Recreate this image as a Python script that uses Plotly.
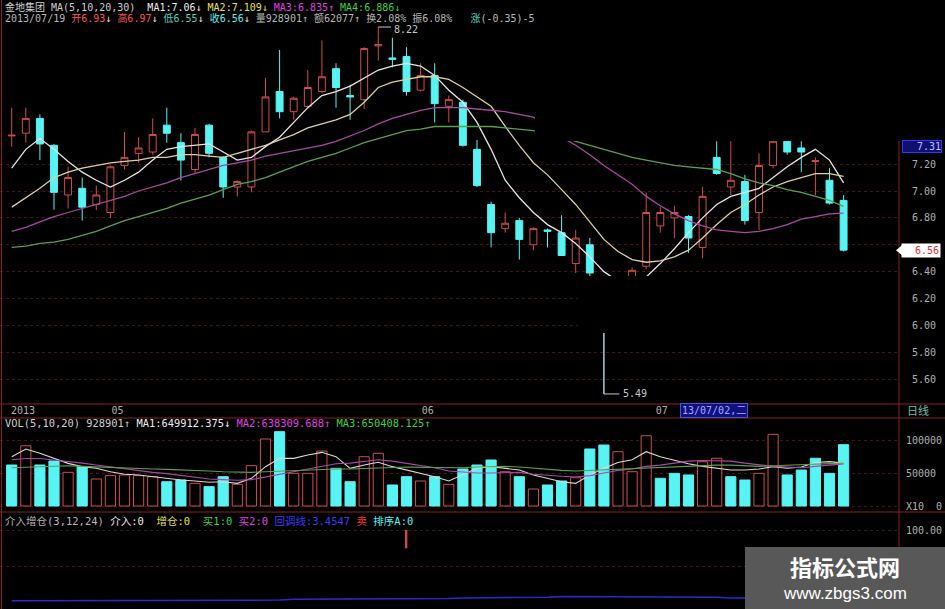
import plotly.graph_objects as go

W, H = 945, 609

# ---------------- data ----------------
opens = [7.41, 7.43, 7.54, 7.34, 6.97, 7.02, 6.90, 6.84, 7.19, 7.28,
         7.29, 7.49, 7.36, 7.16, 7.49, 7.25, 7.03, 7.03, 7.44, 7.74,
         7.59, 7.63, 7.74, 7.91, 7.71, 7.68, 8.08, 7.99, 8.00, 7.75,
         7.86, 7.63, 7.66, 7.31, 6.90, 6.72, 6.78, 6.60, 6.71, 6.69,
         6.46, 6.60, 6.36, 6.08, 6.20, 6.44, 6.74, 6.80, 6.81, 6.58,
         7.25, 7.03, 7.07, 6.84, 7.19, 7.37, 7.32, 7.22, 7.08, 6.93]
highs = [7.62, 7.62, 7.57, 7.35, 7.18, 7.10, 7.04, 7.19, 7.44, 7.40,
         7.54, 7.62, 7.43, 7.47, 7.50, 7.26, 7.08, 7.45, 7.84, 8.05,
         7.70, 7.90, 8.12, 7.95, 7.79, 8.07, 8.22, 8.14, 8.07, 7.95,
         7.95, 7.71, 7.68, 7.38, 6.92, 6.84, 6.80, 6.73, 6.72, 6.82,
         6.71, 6.65, 6.37, 6.32, 6.43, 6.99, 6.88, 6.89, 6.82, 7.03,
         7.37, 7.37, 7.12, 7.28, 7.40, 7.40, 7.37, 7.25, 7.17, 6.97]
lows = [7.33, 7.36, 7.23, 6.86, 6.87, 6.78, 6.86, 6.80, 7.16, 7.21,
        7.27, 7.36, 7.08, 7.13, 7.25, 6.95, 6.96, 6.99, 7.44, 7.54,
        7.53, 7.62, 7.73, 7.62, 7.53, 7.61, 7.97, 7.92, 7.71, 7.74,
        7.51, 7.51, 7.33, 7.03, 6.58, 6.69, 6.49, 6.56, 6.58, 6.52,
        6.39, 6.36, 5.49, 6.00, 6.15, 6.42, 6.69, 6.65, 6.54, 6.50,
        7.12, 6.97, 6.75, 6.71, 7.17, 7.27, 7.14, 6.97, 6.90, 6.55]
closes = [7.415, 7.54, 7.35, 6.99, 7.10, 6.88, 6.97, 7.18, 7.25, 7.32,
          7.42, 7.43, 7.23, 7.42, 7.28, 7.03, 7.07, 7.44, 7.70, 7.59,
          7.69, 7.77, 7.85, 7.77, 7.70, 8.06, 8.09, 7.98, 7.74, 7.86,
          7.65, 7.68, 7.34, 7.04, 6.69, 6.76, 6.64, 6.72, 6.70, 6.52,
          6.65, 6.39, 6.02, 6.29, 6.41, 6.84, 6.84, 6.84, 6.65, 6.96,
          7.13, 7.08, 6.78, 7.19, 7.37, 7.29, 7.29, 7.225, 6.91, 6.56]

ma5 = [7.17, 7.31, 7.39, 7.31, 7.22, 7.14, 7.08, 7.03, 7.08, 7.14,
       7.23, 7.31, 7.33, 7.34, 7.35, 7.29, 7.23, 7.25, 7.33, 7.40,
       7.51, 7.62, 7.71, 7.74, 7.78, 7.84, 7.90, 7.93, 7.95, 7.93,
       7.86, 7.75, 7.66, 7.51, 7.31, 7.08, 6.95, 6.84, 6.75, 6.69,
       6.61, 6.51, 6.40, 6.33, 6.30, 6.36, 6.46, 6.57, 6.69, 6.80,
       6.90, 6.96, 6.99, 7.02, 7.10, 7.18, 7.25, 7.31, 7.23, 7.06]
ma10 = [6.88, 6.95, 7.02, 7.10, 7.14, 7.17, 7.19, 7.21, 7.22, 7.23,
        7.25, 7.25, 7.27, 7.27, 7.26, 7.25, 7.28, 7.31, 7.34, 7.38,
        7.42, 7.47, 7.50, 7.53, 7.57, 7.66, 7.77, 7.81, 7.83, 7.85,
        7.85, 7.83, 7.77, 7.70, 7.63, 7.48, 7.34, 7.21, 7.12, 7.01,
        6.90, 6.77, 6.64, 6.55, 6.49, 6.47, 6.48, 6.51, 6.56, 6.65,
        6.75, 6.84, 6.90, 6.97, 7.03, 7.07, 7.10, 7.13, 7.13, 7.109]
ma20 = [6.70, 6.73, 6.77, 6.81, 6.84, 6.87, 6.90, 6.93, 6.96, 7.00,
        7.03, 7.06, 7.10, 7.13, 7.16, 7.19, 7.21, 7.23, 7.26, 7.28,
        7.30, 7.32, 7.34, 7.37, 7.41, 7.45, 7.50, 7.54, 7.57, 7.60,
        7.62, 7.62, 7.62, 7.61, 7.60, 7.59, 7.57, 7.55, 7.47, 7.40,
        7.34, 7.27, 7.19, 7.12, 7.05, 6.96, 6.89, 6.83, 6.78, 6.74,
        6.71, 6.70, 6.69, 6.70, 6.72, 6.75, 6.79, 6.81, 6.83, 6.835]
ma30 = [6.58, 6.59, 6.61, 6.62, 6.64, 6.67, 6.70, 6.74, 6.78, 6.81,
        6.84, 6.87, 6.91, 6.94, 6.97, 7.01, 7.05, 7.07, 7.10, 7.14,
        7.18, 7.22, 7.25, 7.28, 7.32, 7.36, 7.39, 7.42, 7.45, 7.46,
        7.48, 7.48, 7.48, 7.48, 7.48, 7.47, 7.46, 7.45, 7.43, 7.41,
        7.37, 7.34, 7.31, 7.28, 7.25, 7.23, 7.21, 7.19, 7.18, 7.17,
        7.16, 7.13, 7.09, 7.06, 7.04, 7.01, 6.99, 6.96, 6.93, 6.886]

volume = [621000, 912000, 621000, 682000, 510000, 596000, 409000, 460000, 470000, 460000,
          444000, 368000, 394000, 343000, 293000, 444000, 328000, 611000, 1015000, 1126000,
          495000, 495000, 833000, 571000, 368000, 747000, 798000, 318000, 444000, 379000,
          444000, 328000, 561000, 621000, 697000, 520000, 444000, 258000, 318000, 379000,
          429000, 864000, 924000, 823000, 520000, 1065000, 420000, 495000, 470000, 671000,
          723000, 444000, 394000, 495000, 1086000, 470000, 545000, 723000, 495000, 928901]
vol_up = [0, 1, 0, 0, 1, 0, 1, 1, 1, 1,
          1, 0, 0, 1, 0, 0, 1, 1, 1, 0,
          1, 1, 1, 0, 0, 1, 1, 0, 0, 1,
          0, 1, 0, 0, 0, 1, 0, 1, 0, 0,
          1, 0, 0, 1, 1, 1, 0, 0, 0, 1,
          1, 0, 0, 1, 1, 0, 0, 0, 0, 0]
vol_ma5 = [747, 864, 798, 722, 646, 596, 571, 520, 480, 470,
           444, 419, 394, 379, 359, 368, 343, 419, 596, 722,
           722, 773, 813, 747, 571, 621, 662, 596, 545, 495,
           444, 379, 470, 571, 596, 571, 545, 470, 419, 368,
           343, 470, 571, 660, 700, 823, 747, 690, 640, 600,
           570, 545, 545, 560, 596, 571, 590, 660, 672, 650]
vol_ma10 = [700, 720, 720, 700, 680, 650, 620, 590, 560, 530,
            510, 490, 460, 430, 410, 400, 390, 400, 440, 490,
            530, 560, 600, 640, 650, 670, 700, 680, 650, 620,
            580, 530, 510, 500, 500, 510, 510, 480, 460, 450,
            440, 460, 500, 540, 560, 600, 620, 650, 680, 690,
            690, 680, 650, 620, 600, 590, 580, 600, 620, 638]
vol_ma20 = [580, 590, 600, 610, 610, 600, 590, 580, 570, 560,
            560, 555, 550, 540, 530, 520, 510, 510, 520, 530,
            530, 540, 555, 560, 560, 570, 580, 590, 590, 585,
            580, 575, 580, 590, 600, 600, 590, 570, 555, 540,
            530, 540, 550, 560, 560, 580, 590, 600, 600, 610,
            620, 620, 610, 600, 610, 620, 630, 640, 645, 650]

ind_line = [3, 3, 3, 3, 3, 3, 3, 3, 3, 4, 4, 4, 4, 4, 4, 4, 4, 4, 4, 4,
            5, 5, 5, 5, 5, 5, 5, 5, 5, 5, 6, 6, 7, 7, 7, 8, 8, 8, 8, 9,
            9, 9, 9, 9, 9, 9, 8, 8, 8, 8, 8, 7, 7, 7, 7, 7, 7, 7, 7, 7]
sell_idx = [28]
sell_top, sell_bot = 100, 75

price_ticks = [7.20, 7.00, 6.80, 6.60, 6.40, 6.20, 6.00, 5.80, 5.60]
axis_top_label = 7.31
vol_ticks = [0, 500000, 1000000]
vol_tick_text = ["X10\u00a0\u00a00", "50000", "100000"]
ind_ticks = [50, 100]
ind_tick_text = ["", "100.00"]
month_labels = ["2013", "05", "06", "07"]
month_pos = [0.8, 7.5, 29.5, 46.1]

stock_name = "金地集团"
ma_header = ["7.06↓", "7.109↓", "6.835↑", "6.886↓"]
vol_header = ["928901↑", "649912.375↓", "638309.688↑", "650408.125↑"]
cursor_date = "13/07/02,二"

# ---------------- geometry ----------------
PLOT_R = 899
X0_PX, STEP_PX = 11.7, 14.1
PRICE_BOT = 404
VOL_TOP, VOL_BOT = 418, 512


def px(x):
    return x / W


def py(y):
    return 1 - y / H


XD = [0, PLOT_R / W]
XR = [-X0_PX / STEP_PX, (PLOT_R - X0_PX) / STEP_PX]
# price scale: 7.00 at y=191, 134.4 px per 1.00
P_RANGE = [7.0 - (PRICE_BOT - 191) / 134.4, 7.0 + 191 / 134.4]
PRICE_DOM = [py(PRICE_BOT), 1.0]
# volume scale: 0 at y=506, 66 px per 1,000,000
V_RANGE = [-(VOL_BOT - 506) / 66 * 1e6, (506 - VOL_TOP) / 66 * 1e6]
VOL_DOM = [py(VOL_BOT), py(VOL_TOP)]
# indicator scale: 100 at y=530, 0 at y=603
I_RANGE = [-(609 - 603) / 73 * 100, 100 + (530 - 512) / 73 * 100]
IND_DOM = [0, py(VOL_BOT)]


def price_at(ypix):
    return P_RANGE[1] - ypix * (P_RANGE[1] - P_RANGE[0]) / PRICE_BOT


RED = "#d04c4c"
CYAN = "#58f4f4"
GRAY = "#b8b8b8"
WHITE = "#eeeeee"
YEL = "#e8e050"
MAG = "#e040e0"
GRN = "#40d040"
FRAME = "#8a1e1e"
MONO = "DejaVu Sans Mono, Noto Sans CJK SC, monospace"
SP = "\u00a0"

n = len(closes)
idx = list(range(n))

fig = go.Figure()

fig.add_trace(go.Candlestick(
    x=idx, open=opens, high=highs, low=lows, close=closes,
    increasing=dict(line=dict(color=RED, width=1), fillcolor="black"),
    decreasing=dict(line=dict(color=CYAN, width=1), fillcolor=CYAN),
    whiskerwidth=0, xaxis="x", yaxis="y", hoverinfo="skip"))

for vals, col in [(ma5, "#e6e6e6"), (ma10, "#dcd0a0"), (ma20, "#a848a8"), (ma30, "#5aa050")]:
    fig.add_trace(go.Scatter(x=idx, y=vals, mode="lines", line=dict(color=col, width=1.3),
                             xaxis="x", yaxis="y", hoverinfo="skip"))

fig.add_trace(go.Bar(
    x=idx, y=volume, width=0.72,
    marker=dict(color=["black" if u else CYAN for u in vol_up],
                line=dict(color=[RED if u else CYAN for u in vol_up], width=1)),
    xaxis="x2", yaxis="y2", hoverinfo="skip"))

for vals, col in [(vol_ma5, "#e0d8d0"), (vol_ma10, "#a848a8"), (vol_ma20, "#5aa050")]:
    fig.add_trace(go.Scatter(x=idx, y=[v * 1000 for v in vals], mode="lines",
                             line=dict(color=col, width=1.1), xaxis="x2", yaxis="y2", hoverinfo="skip"))

fig.add_trace(go.Scatter(x=idx, y=ind_line, mode="lines", line=dict(color="#2a2ad0", width=1.5),
                         xaxis="x3", yaxis="y3", hoverinfo="skip"))
fig.add_trace(go.Bar(x=sell_idx, y=[sell_top - sell_bot] * len(sell_idx), base=[sell_bot] * len(sell_idx),
                     width=0.12, marker=dict(color=RED, line=dict(width=0)),
                     xaxis="x3", yaxis="y3", hoverinfo="skip"))

i_high = max(range(n), key=lambda i: highs[i])
i_low = min(range(n), key=lambda i: lows[i])

shapes = []
# masked (blacked-out) regions of the original screenshot
shapes.append(dict(type="rect", xref="paper", yref="paper", x0=px(535), x1=1, y0=py(141), y1=1,
                   fillcolor="black", line=dict(width=0), layer="above"))
shapes.append(dict(type="rect", xref="paper", yref="paper", x0=px(578), x1=px(PLOT_R), y0=py(333), y1=py(276),
                   fillcolor="black", line=dict(width=0), layer="above"))
# high / low markers
shapes.append(dict(type="line", xref="x", yref="y", x0=i_low, x1=i_low, y0=lows[i_low], y1=price_at(333),
                   line=dict(color="#c8c8c8", width=1), layer="above"))
shapes.append(dict(type="line", xref="x", yref="y", x0=i_low, x1=i_low + 1.1, y0=lows[i_low], y1=lows[i_low],
                   line=dict(color="#c8c8c8", width=1), layer="above"))
shapes.append(dict(type="line", xref="x", yref="y", x0=i_high, x1=i_high + 0.9, y0=highs[i_high], y1=highs[i_high],
                   line=dict(color="#c8c8c8", width=1), layer="above"))
# frame lines
for yy in [PRICE_BOT, VOL_TOP, VOL_BOT]:
    shapes.append(dict(type="line", xref="paper", yref="paper", x0=0, x1=1, y0=py(yy), y1=py(yy),
                       line=dict(color=FRAME, width=1), layer="above"))
shapes.append(dict(type="line", xref="paper", yref="paper", x0=px(PLOT_R), x1=px(PLOT_R), y0=py(141), y1=0,
                   line=dict(color=FRAME, width=1), layer="above"))
shapes.append(dict(type="line", xref="paper", yref="paper", x0=px(1.5), x1=px(1.5), y0=0, y1=1,
                   line=dict(color=FRAME, width=1), layer="above"))
# current price tag arrow
tag_y = closes[-1]
shapes.append(dict(type="path", xref="paper", yref="y",
                   path=f"M {px(896)} {tag_y} L {px(904)} {tag_y + 0.05} L {px(904)} {tag_y - 0.05} Z",
                   fillcolor="white", line=dict(width=0), layer="above"))
# watermark box
shapes.append(dict(type="rect", xref="paper", yref="paper", x0=px(745), x1=1, y0=0, y1=py(547),
                   fillcolor="#585858", line=dict(width=0), layer="above"))


def seg(t, c):
    return f'<span style="color:{c}">{t}</span>'


line1 = (seg(stock_name + SP + "MA(5,10,20,30)" + SP * 2, "#d0d0d0") + seg("MA1:" + ma_header[0] + SP, WHITE)
         + seg("MA2:" + ma_header[1] + SP, YEL) + seg("MA3:" + ma_header[2] + SP, MAG)
         + seg("MA4:" + ma_header[3], GRN))
line2 = (seg("2013/07/19" + SP, GRAY) + seg("开6.93", "#ff5050") + seg("↓" + SP, WHITE)
         + seg("高6.97", "#ff5050") + seg("↓" + SP, WHITE) + seg("低6.55", "#50d0c0") + seg("↓" + SP, WHITE)
         + seg("收6.56", CYAN) + seg("↓" + SP, WHITE)
         + seg("量928901↑" + SP, GRAY) + seg("额62077↑" + SP, GRAY) + seg("换2.08%" + SP, GRAY)
         + seg("振6.08%" + SP * 3, GRAY) + seg("涨", "#50d0c0") + seg("(-0.35)-5", GRAY))
vline = (seg("VOL(5,10,20)" + SP + vol_header[0] + SP, "#d0d0d0") + seg("MA1:" + vol_header[1] + SP, WHITE)
         + seg("MA2:" + vol_header[2] + SP, MAG) + seg("MA3:" + vol_header[3], GRN))
iline = (seg("介入增仓(3,12,24)" + SP, GRAY) + seg("介入:0" + SP * 2, WHITE) + seg("增仓:0" + SP * 2, YEL)
         + seg("买1:0" + SP, GRN) + seg("买2:0" + SP, MAG) + seg("回调线:3.4547" + SP, "#3a3aff")
         + seg("卖" + SP, "#ff3030") + seg("排序A:0", CYAN))

ann = []


def text_ann(txt, x, y, size=10, xanchor="left", **kw):
    d = dict(text=txt, xref="paper", yref="paper", x=px(x), y=py(y), xanchor=xanchor, yanchor="middle",
             showarrow=False, font=dict(family=MONO, size=size, color=GRAY))
    d.update(kw)
    ann.append(d)


text_ann(line1, 3, 7)
text_ann(line2, 3, 18)
text_ann(vline, 3, 423, size=10.4)
text_ann(iline, 3, 521, size=10.5)
text_ann("日线", 905, 411, font=dict(family=MONO, size=11, color="#70c0b0"))
text_ann(cursor_date, 680, 411, bgcolor="#101080", bordercolor="#5050c8", borderpad=1,
         font=dict(family=MONO, size=10, color="#a8a8ff"))

ann.append(dict(text=f"{axis_top_label:.2f}", xref="paper", yref="y", x=px(942), y=axis_top_label, yshift=3,
                xanchor="right", yanchor="middle", showarrow=False, width=38, align="right",
                bgcolor="#101070", bordercolor="#3434ff", borderwidth=1, borderpad=0,
                font=dict(family=MONO, size=10, color="#c0c0ff")))
ann.append(dict(text=f"{closes[-1]:.2f}", xref="paper", yref="y", x=px(941), y=closes[-1],
                xanchor="right", yanchor="middle", showarrow=False, width=36, align="right",
                bgcolor="white", borderpad=1, font=dict(family=MONO, size=10, color="#e03030")))
ann.append(dict(text=f"{highs[i_high]:.2f}", xref="x", yref="y", x=i_high + 1.0, y=highs[i_high], yshift=-2,
                xanchor="left", yanchor="middle", showarrow=False,
                font=dict(family=MONO, size=10, color="#c8c8c8")))
ann.append(dict(text=f"{lows[i_low]:.2f}", xref="x", yref="y", x=i_low + 1.2, y=lows[i_low],
                xanchor="left", yanchor="middle", showarrow=False,
                font=dict(family=MONO, size=10, color="#c8c8c8")))
ann.append(dict(text="指标公式网", xref="paper", yref="paper", x=px(845), y=py(566), xanchor="center",
                yanchor="middle", showarrow=False,
                font=dict(family="Noto Sans CJK SC", size=22, color="white", weight="bold")))
ann.append(dict(text="www.zbgs3.com", xref="paper", yref="paper", x=px(845), y=py(593), xanchor="center",
                yanchor="middle", showarrow=False, font=dict(family="Liberation Sans, Arial", size=17, color="white")))

tickfont = dict(family=MONO, size=10, color="#b0b0b0")
grid = dict(showgrid=True, gridcolor="#4a1010", griddash="dot", gridwidth=1)

fig.update_layout(
    width=W, height=H, margin=dict(l=0, r=0, t=0, b=0),
    paper_bgcolor="black", plot_bgcolor="black", showlegend=False, hovermode=False,
    boxgap=0.3, bargap=0.28,
    xaxis=dict(domain=XD, range=XR, anchor="y", showgrid=False, zeroline=False, showline=False,
               tickvals=month_pos, ticktext=month_labels, ticks="", tickfont=tickfont,
               rangeslider=dict(visible=False), ticklabelstandoff=-1),
    xaxis2=dict(domain=XD, range=XR, anchor="y2", visible=False),
    xaxis3=dict(domain=XD, range=XR, anchor="y3", visible=False),
    yaxis=dict(domain=PRICE_DOM, range=P_RANGE, anchor="x", side="right", zeroline=False, showline=False,
               tickvals=price_ticks, ticktext=["" if abs(v - closes[-1]) < 0.08 else f"{v:.2f}" for v in price_ticks],
               ticks="", tickfont=tickfont, ticklabelstandoff=12, **grid),
    yaxis2=dict(domain=VOL_DOM, range=V_RANGE, anchor="x2", side="right", zeroline=False, showline=False,
                tickvals=vol_ticks, ticktext=vol_tick_text, ticks="", tickfont=tickfont,
                ticklabelstandoff=6, **grid),
    yaxis3=dict(domain=IND_DOM, range=I_RANGE, anchor="x3", side="right", zeroline=False, showline=False,
                tickvals=ind_ticks, ticktext=ind_tick_text, ticks="", tickfont=tickfont,
                ticklabelstandoff=6, **grid),
    shapes=shapes, annotations=ann,
)

fig.write_html("out.html", config={"displayModeBar": False},
               post_script="document.body.style.margin='0px';"
                           "document.documentElement.style.overflow='hidden';")
